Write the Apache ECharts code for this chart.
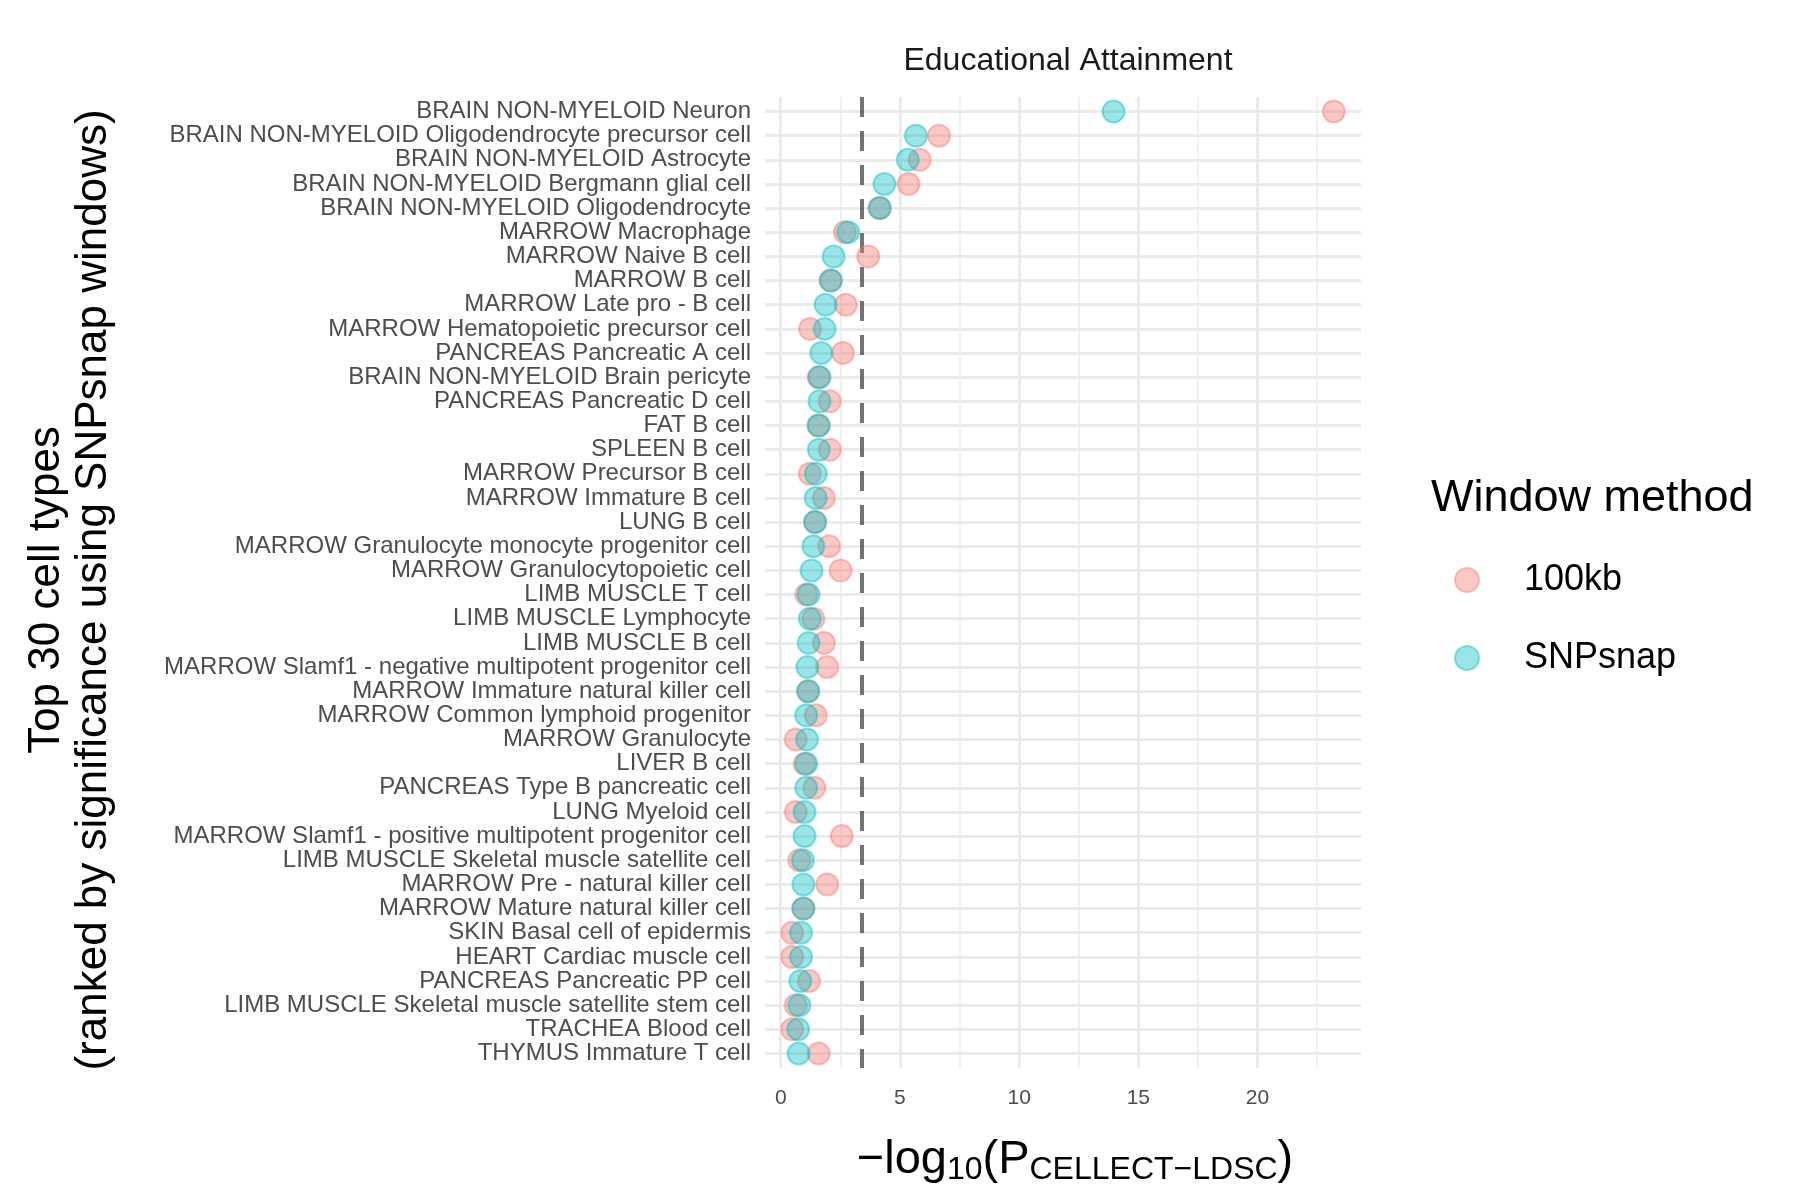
<!DOCTYPE html>
<html>
<head>
<meta charset="utf-8">
<title>Educational Attainment</title>
<script src="https://cdn.jsdelivr.net/npm/echarts@6/dist/echarts.min.js"></script>
<style>html,body{margin:0;padding:0;background:#fff}</style>
</head>
<body>
<div id="main" style="width:1800px;height:1200px;"></div>
<script>
// cell types, top to bottom
var cellTypes = [
  'BRAIN NON-MYELOID Neuron', 'BRAIN NON-MYELOID Oligodendrocyte precursor cell', 'BRAIN NON-MYELOID Astrocyte',
  'BRAIN NON-MYELOID Bergmann glial cell', 'BRAIN NON-MYELOID Oligodendrocyte', 'MARROW Macrophage',
  'MARROW Naive B cell', 'MARROW B cell', 'MARROW Late pro - B cell', 'MARROW Hematopoietic precursor cell',
  'PANCREAS Pancreatic A cell', 'BRAIN NON-MYELOID Brain pericyte', 'PANCREAS Pancreatic D cell', 'FAT B cell',
  'SPLEEN B cell', 'MARROW Precursor B cell', 'MARROW Immature B cell', 'LUNG B cell',
  'MARROW Granulocyte monocyte progenitor cell', 'MARROW Granulocytopoietic cell', 'LIMB MUSCLE T cell',
  'LIMB MUSCLE Lymphocyte', 'LIMB MUSCLE B cell', 'MARROW Slamf1 - negative multipotent progenitor cell',
  'MARROW Immature natural killer cell', 'MARROW Common lymphoid progenitor', 'MARROW Granulocyte',
  'LIVER B cell', 'PANCREAS Type B pancreatic cell', 'LUNG Myeloid cell',
  'MARROW Slamf1 - positive multipotent progenitor cell', 'LIMB MUSCLE Skeletal muscle satellite cell',
  'MARROW Pre - natural killer cell', 'MARROW Mature natural killer cell', 'SKIN Basal cell of epidermis',
  'HEART Cardiac muscle cell', 'PANCREAS Pancreatic PP cell', 'LIMB MUSCLE Skeletal muscle satellite stem cell',
  'TRACHEA Blood cell', 'THYMUS Immature T cell'
];
var kb100 = [23.2, 6.64, 5.83, 5.36, 4.14, 2.69, 3.67, 2.1, 2.73, 1.23,
             2.61, 1.59, 2.06, 1.59, 2.06, 1.22, 1.81, 1.44, 2.03, 2.51,
             1.07, 1.37, 1.81, 1.95, 1.15, 1.47, 0.63, 1.0, 1.41, 0.63,
             2.56, 0.78, 1.95, 0.95, 0.48, 0.48, 1.19, 0.63, 0.48, 1.59];
var snpsnap = [13.96, 5.67, 5.33, 4.35, 4.16, 2.83, 2.22, 2.1, 1.88, 1.84,
               1.70, 1.63, 1.63, 1.59, 1.60, 1.47, 1.47, 1.44, 1.37, 1.29,
               1.17, 1.22, 1.17, 1.12, 1.15, 1.07, 1.10, 1.07, 1.07, 1.0,
               1.0, 0.93, 0.95, 0.95, 0.85, 0.85, 0.82, 0.78, 0.73, 0.75];
var xTicks = [0, 5, 10, 15, 20];
var xMinor = [2.5, 7.5, 12.5, 17.5, 22.5];
var threshold = 3.38;

var rows = cellTypes.map(function (c, i) { return i + 1; });
function pairs(vals) { return vals.map(function (v, i) { return [v, i + 1]; }); }

var grid = '#EBEBEB';
var gridLines = [];
rows.forEach(function (r) { gridLines.push({ yAxis: r, lineStyle: { color: grid, width: 3, type: 'solid' } }); });
xTicks.forEach(function (t) { gridLines.push({ xAxis: t, lineStyle: { color: grid, width: 3, type: 'solid' } }); });
xMinor.forEach(function (t) { gridLines.push({ xAxis: t, lineStyle: { color: grid, width: 1.5, type: 'solid' } }); });
gridLines.push({ xAxis: threshold, lineStyle: { color: 'rgba(70,70,70,0.75)', width: 4, type: [20, 14] } });

var font = 'Liberation Sans, Arial, sans-serif';
var myChart = echarts.init(document.getElementById('main'));
var option = {
  animation: false,
  textStyle: { fontFamily: font },
  title: {
    text: 'Educational Attainment', left: 1063, top: 40, textAlign: 'center',
    textStyle: { fontSize: 32, fontWeight: 'normal', color: '#1A1A1A' }
  },
  grid: { left: 765, right: 439, top: 97, bottom: 132 },
  xAxis: {
    type: 'value', min: -0.66, max: 24.34,
    axisLine: { show: false }, axisTick: { show: false }, splitLine: { show: false },
    axisLabel: { customValues: xTicks, fontSize: 21, color: '#4D4D4D', margin: 20 }
  },
  yAxis: {
    type: 'value', min: 0.4, max: 40.6, inverse: true,
    axisLine: { show: false }, axisTick: { show: false }, splitLine: { show: false },
    axisLabel: {
      customValues: rows, fontSize: 24, color: '#4D4D4D', margin: 14,
      formatter: function (v) { return cellTypes[Math.round(v) - 1] || ''; }
    }
  },
  legend: {
    orient: 'vertical', left: 1449, top: 557, itemGap: 42,
    itemWidth: 24, itemHeight: 24, icon: 'circle',
    data: ['100kb', 'SNPsnap'],
    textStyle: { fontSize: 36, color: '#000', padding: [0, 0, 0, 40], lineHeight: 30 }
  },
  graphic: [
    { type: 'text', left: 1431, top: 476, style: { text: 'Window method', fontSize: 45, fill: '#000', fontFamily: font } },
    { type: 'text', x: 1075, y: 1160, style: {
        text: '{a|−log}{s|10}{a|(P}{s|CELLECT−LDSC}{a|)}', align: 'center', verticalAlign: 'middle',
        fontFamily: font,
        rich: {
          a: { fontSize: 47, fill: '#000', verticalAlign: 'middle' },
          s: { fontSize: 32, fill: '#000', verticalAlign: 'bottom', padding: [20, 0, 0, 0] }
        } } },
    { type: 'text', x: 70, y: 590, rotation: Math.PI / 2, style: {
        text: 'Top 30 cell types\n(ranked by significance using SNPsnap windows)', align: 'center', verticalAlign: 'middle',
        fontSize: 44, lineHeight: 47, fill: '#000', fontFamily: font } }
  ],
  series: [
    { type: 'scatter', data: [], silent: true, z: 0,
      markLine: { silent: true, z: 0, symbol: 'none', label: { show: false }, data: gridLines } },
    { name: '100kb', type: 'scatter', symbolSize: 22, z: 5, data: pairs(kb100),
      itemStyle: { color: 'rgba(248,118,109,0.5)', borderColor: 'rgba(248,118,109,0.55)', borderWidth: 2 } },
    { name: 'SNPsnap', type: 'scatter', symbolSize: 22, z: 6, data: pairs(snpsnap),
      itemStyle: { color: 'rgba(0,191,196,0.5)', borderColor: 'rgba(0,191,196,0.55)', borderWidth: 2 } }
  ]
};
myChart.setOption(option);
window.onresize = myChart.resize;
</script>
</body>
</html>
